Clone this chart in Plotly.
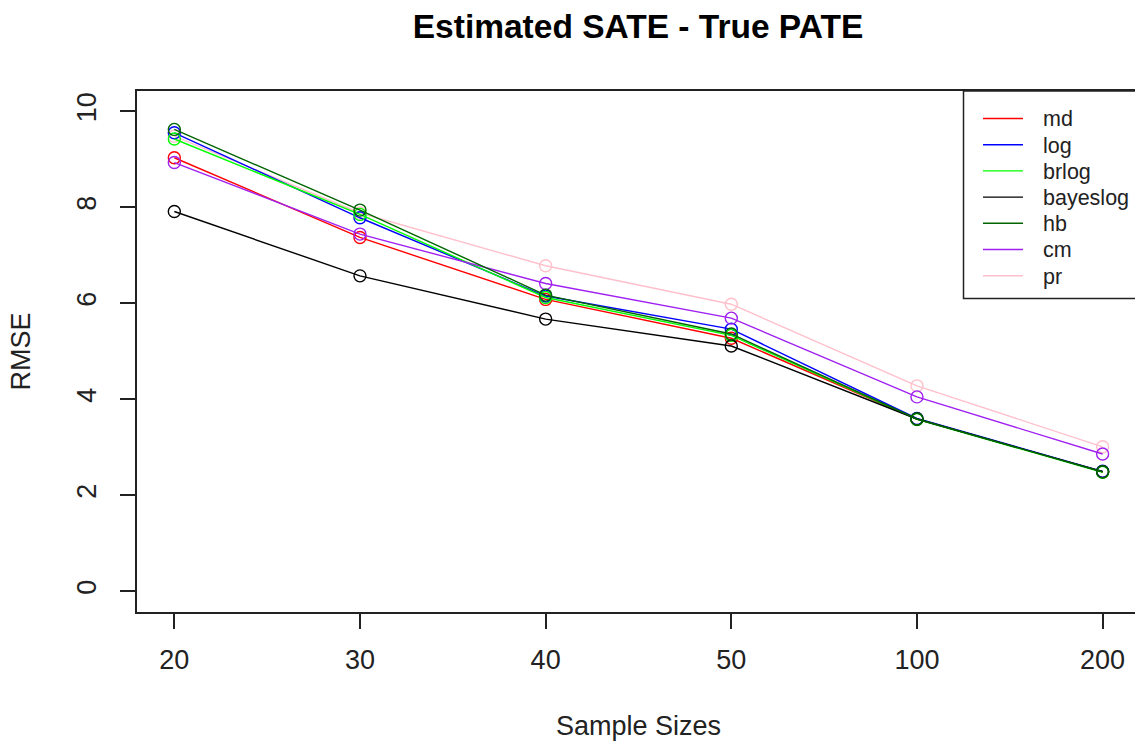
import plotly.graph_objects as go

sample_sizes = ["20", "30", "40", "50", "100", "200"]
series_names = ["md", "log", "brlog", "bayeslog", "hb", "cm", "pr"]
md = [9.03, 7.37, 6.08, 5.27, 3.59, 2.49]
log = [9.55, 7.78, 6.15, 5.46, 3.60, 2.50]
brlog = [9.42, 7.85, 6.12, 5.33, 3.58, 2.48]
bayeslog = [7.91, 6.57, 5.67, 5.11, 3.59, 2.49]
hb = [9.62, 7.94, 6.17, 5.36, 3.59, 2.49]
cm = [8.93, 7.44, 6.41, 5.69, 4.05, 2.86]
pr = [9.48, 7.88, 6.78, 5.98, 4.28, 3.01]
y_ticks = [0, 2, 4, 6, 8, 10]

values = {"md": md, "log": log, "brlog": brlog, "bayeslog": bayeslog,
          "hb": hb, "cm": cm, "pr": pr}
colors = {"md": "#FF0000", "log": "#0000FF", "brlog": "#00FF00",
          "bayeslog": "#000000", "hb": "#006400", "cm": "#A020F0",
          "pr": "#FFC0CB"}

FONT = "Liberation Sans, Arial, sans-serif"
AXC = "#222222"
xs = list(range(len(sample_sizes)))

# figure geometry: plot box runs a little past the right edge of the window
W, H = 1140, 744
ML, MT, MB = 137, 91, 132
PW = W - ML
PH = H - MT - MB
UNIT = 185.66  # px per category step
X0 = -0.201


def px_x(p):
    return (p - ML) / PW


def px_y(p):
    return (H - MB - p) / PH


fig = go.Figure()
draw_order = ["pr", "md", "log", "brlog", "bayeslog", "cm", "hb"]
for name in draw_order:
    fig.add_trace(go.Scatter(
        x=xs, y=values[name], mode="lines+markers", name=name,
        line=dict(color=colors[name], width=1.4),
        marker=dict(symbol="circle-open", size=12,
                    line=dict(color=colors[name], width=1.4)),
        showlegend=False,
    ))

# legend box drawn like the original (lines only)
shapes = [dict(type="rect", xref="paper", yref="paper",
               x0=px_x(963.5), x1=px_x(1160), y0=px_y(298.5), y1=px_y(91),
               line=dict(color=AXC, width=1.5), fillcolor="white", layer="above")]
annotations = []
for i, name in enumerate(series_names):
    yy = 118.5 + 26.2 * i
    shapes.append(dict(type="line", xref="paper", yref="paper",
                       x0=px_x(983), x1=px_x(1023), y0=px_y(yy), y1=px_y(yy),
                       line=dict(color=colors[name], width=1.4), layer="above"))
    annotations.append(dict(text=name, xref="paper", yref="paper",
                            x=px_x(1041), y=px_y(yy + 1), xanchor="left",
                            yanchor="middle", showarrow=False,
                            font=dict(family=FONT, size=21.5, color=AXC)))

fig.update_layout(
    width=W, height=H,
    margin=dict(l=ML, r=0, t=MT, b=MB),
    paper_bgcolor="white", plot_bgcolor="white",
    font=dict(family=FONT, size=27, color="#000000"),
    title=dict(text="<b>Estimated SATE - True PATE</b>",
               font=dict(family=FONT, size=33.5, color="#000000"),
               x=px_x(638), xref="paper", xanchor="center",
               y=1 - 26 / H, yref="container", yanchor="middle"),
    showlegend=False,
    hovermode=False,
    shapes=shapes,
    annotations=annotations,
    xaxis=dict(range=[X0, X0 + PW / UNIT], tickvals=xs, ticktext=sample_sizes,
               showgrid=False, zeroline=False, showline=True, mirror=True,
               linecolor=AXC, linewidth=1.5,
               ticks="outside", ticklen=15, tickwidth=1.5, tickcolor=AXC,
               ticklabelstandoff=8,
               tickfont=dict(size=27, family=FONT, color=AXC),
               title=dict(text="Sample Sizes", standoff=42,
                          font=dict(size=27, family=FONT, color=AXC))),
    yaxis=dict(range=[-0.43, 10.42], tickvals=y_ticks,
               showgrid=False, zeroline=False, showline=True, mirror=False,
               linecolor=AXC, linewidth=1.5,
               ticks="outside", ticklen=15, tickwidth=1.5, tickcolor=AXC,
               tickangle=-90, ticklabelstandoff=13,
               tickfont=dict(size=27, family=FONT, color=AXC),
               title=dict(text="RMSE", standoff=34,
                          font=dict(size=27, family=FONT, color=AXC))),
)

fig.write_html(
    "out.html",
    config={"displayModeBar": False},
    post_script="document.body.style.margin='0';"
                "document.documentElement.style.overflow='hidden';"
                "document.body.style.overflow='hidden';",
)
